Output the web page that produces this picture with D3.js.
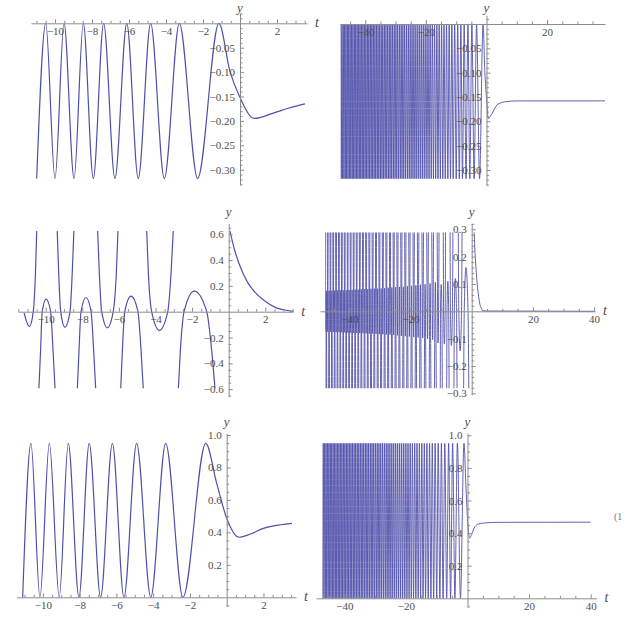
<!DOCTYPE html>
<html><head><meta charset="utf-8">
<script src="https://cdn.jsdelivr.net/npm/d3@7/dist/d3.min.js"></script>
<style>body{margin:0;background:#fff}svg{display:block}</style>
</head><body>
<svg id="c" width="644" height="624"></svg>
<script>
// ---------- DATA ----------
// Panel 1 (top-left)
const p1T = [-10.99,-10.50,-10.00,-9.51,-8.97,-8.47,-7.93,-7.37,-6.76,-6.12,-5.50,-4.83,-4.09,-3.28,-2.29,-1.14,-0.54,0,0.77,1.8,2.6,3.51];
const p1Y = [-0.318,0,-0.318,0,-0.318,0,-0.318,0,-0.318,0,-0.318,0,-0.318,0,-0.318,0,-0.099,-0.152,-0.195,-0.184,-0.174,-0.165];
// Panel 5 (bottom-left)
const p5T = [-11.10,-10.65,-10.16,-9.65,-9.11,-8.62,-8.04,-7.48,-6.86,-6.22,-5.59,-4.90,-4.13,-3.32,-2.38,-1.14,-0.54,0,0.67,1.3,2.0,2.8,3.55];
const p5Y = [0,0.949,0,0.949,0,0.949,0,0.949,0,0.949,0,0.949,0,0.949,0,0.949,0.70,0.487,0.37,0.39,0.425,0.445,0.456];
// Panel 3 (middle-left): branches between poles, [t, y]
const p3Branches = [
  [[-11.18,-0.01],[-10.89,-0.116],[-10.68,0],[-10.56,0.3],[-10.49,0.625]],
  [[-10.37,-0.594],[-10.28,-0.3],[-10.19,0],[-9.98,0.098],[-9.73,0],[-9.60,-0.3],[-9.49,-0.594]],
  [[-9.37,0.625],[-9.29,0.3],[-9.18,0],[-8.95,-0.12],[-8.67,0],[-8.55,0.3],[-8.46,0.625]],
  [[-8.27,-0.594],[-8.18,-0.3],[-8.07,0],[-7.80,0.11],[-7.52,0],[-7.38,-0.3],[-7.27,-0.594]],
  [[-7.16,0.625],[-7.07,0.3],[-6.94,0],[-6.63,-0.125],[-6.31,0],[-6.14,0.3],[-6.05,0.625]],
  [[-5.90,-0.594],[-5.81,-0.3],[-5.68,0],[-5.34,0.12],[-4.96,0],[-4.79,-0.3],[-4.67,-0.594]],
  [[-4.48,0.625],[-4.39,0.3],[-4.21,0],[-3.79,-0.145],[-3.33,0],[-3.15,0.3],[-3.03,0.625]],
  [[-2.75,-0.594],[-2.64,-0.3],[-2.44,0],[-1.88,0.16],[-1.20,0],[-0.93,-0.3],[-0.75,-0.594]]
];
const p3Post = [[0.07,0.625],[0.3,0.49],[0.6,0.36],[1.0,0.235],[1.35,0.165],[1.9,0.09],[2.6,0.03],[3.0,0.015],[3.53,0.003]];
const p4Tail = [[5,0.001],[40.3,0]];
// Dense panels (right column): |t| of maxima and minima
const densePeakT = [1.14,3.28,4.83,6.12,7.37,8.47,9.51,10.50,11.43,12.32,13.19,14.02,14.83,15.62,16.39,17.14,17.88,18.60,19.31,20.00,20.69,21.36,22.02,22.67,23.31,23.95,24.57,25.19,25.80,26.40,27.00,27.59,28.17,28.75,29.32,29.89,30.45,31.00,31.55,32.10,32.64,33.18,33.71,34.24,34.76,35.28,35.80,36.31,36.82,37.33,37.83,38.33,38.83,39.32,39.81,40.30,40.78,41.26,41.74,42.21,42.69,43.16,43.62,44.09,44.55,45.01,45.47,45.93,46.38,46.83,47.28,47.73,48.17,48.61,49.06];
const denseTroughT = [2.29,4.09,5.50,6.76,7.93,8.97,10.00,10.99,11.88,12.76,13.61,14.43,15.23,16.01,16.77,17.51,18.24,18.96,19.66,20.35,21.03,21.69,22.35,22.99,23.63,24.26,24.88,25.50,26.10,26.70,27.30,27.88,28.46,29.04,29.61,30.17,30.73,31.28,31.83,32.37,32.91,33.45,33.98,34.50,35.02,35.54,36.06,36.57,37.08,37.58,38.08,38.58,39.08,39.57,40.06,40.54,41.02,41.50,41.98,42.45,42.93,43.39,43.86,44.32,44.78,45.24,45.70,46.16,46.61,47.06,47.51,47.95,48.39,48.84];
// Panel 4 band half-height at each trough position
const p4BandAmp = [0.160,0.145,0.120,0.125,0.110,0.120,0.100,0.116,
  0.106,0.104,0.102,0.101,0.099,0.098,0.097,0.096,0.095,0.094,0.093,0.092,0.092,0.091,0.090,0.090,0.089,0.088,0.088,0.087,0.087,0.086,0.086,0.085,0.085,0.084,0.084,0.084,0.083,0.083,0.083,0.082,0.082,0.082,0.081,0.081,0.081,0.080,0.080,0.080,0.079,0.079,0.079,0.079,0.078,0.078,0.078,0.078,0.077,0.077,0.077,0.077,0.077,0.076,0.076,0.076,0.076,0.076,0.075,0.075,0.075,0.075,0.075,0.075,0.074,0.074];
const p2Levels = [0, -0.318];   // maxima, minima
const p6Levels = [0.951, 0];
const p2Post = [[-0.54,-0.099],[0,-0.152],[0.6,-0.194],[1.8,-0.184],[3.5,-0.166],[6,-0.160],[10,-0.158],[39.1,-0.158]];
const p6Post = [[-0.54,0.70],[0,0.487],[0.67,0.37],[1.3,0.39],[2.0,0.425],[3.55,0.456],[6,0.463],[10,0.466],[40,0.467]];
// Ticks
const smallXTicks = [-10,-8,-6,-4,-2,2];
const wideXTicks2 = [-40,-20,20];
const wideXTicks = [-40,-20,20,40];
const yTicks12 = [-0.05,-0.10,-0.15,-0.20,-0.25,-0.30];
const yTicks3 = [-0.6,-0.4,-0.2,0.2,0.4,0.6];
const yTicks4 = [-0.3,-0.2,-0.1,0.1,0.2,0.3];
const yTicks56 = [0.2,0.4,0.6,0.8,1.0];

// ---------- DRAWING ----------
const svg = d3.select("#c");
svg.append("rect").attr("width",644).attr("height",624).attr("fill","#fff");
const LINE = "#5050aa", AX = "#8c8c8c", TXT = "#4d4d4d";
const FONT = "'Liberation Serif','DejaVu Serif',serif";
const minus = s => s.replace("-", "\u2212");
let clipId = 0;

function panel(o){
  const x = d3.scaleLinear().domain(o.xExt).range([o.x0 + o.xExt[0]*o.kx, o.x0 + o.xExt[1]*o.kx]);
  const y = d3.scaleLinear().domain(o.yExt).range([o.y0 - o.yExt[0]*o.ky, o.y0 - o.yExt[1]*o.ky]);
  const g = svg.append("g");
  const id = "clip" + (clipId++);
  const cx = o.clipX || o.xExt, cy = o.clipY || o.yExt;
  g.append("clipPath").attr("id", id).append("rect")
    .attr("x", x(cx[0])).attr("width", x(cx[1]) - x(cx[0]))
    .attr("y", y(cy[1])).attr("height", y(cy[0]) - y(cy[1]));
  const lg = g.append("g").attr("clip-path", `url(#${id})`);
  const line = d3.line().x(d => x(d[0])).y(d => y(d[1])).curve(d3.curveMonotoneX);
  o.series.forEach(s => {
    lg.append("path").attr("d", line(s)).attr("fill","none")
      .attr("stroke", LINE).attr("stroke-width", o.sw || 1.2).attr("stroke-linejoin","round");
  });

  const minor = (ext, step, major) => d3.range(Math.ceil(ext[0]/step)*step, ext[1] + 1e-9, step)
      .map(v => +v.toFixed(6))
      .filter(v => Math.abs(v) > 1e-9 && !major.some(m => Math.abs(m - v) < 1e-9));
  const style = sel => {
    sel.selectAll(".domain").attr("stroke", AX).attr("stroke-width", 1);
    sel.selectAll(".tick line").attr("stroke", AX).attr("stroke-width", 1);
    sel.selectAll("text").attr("fill", TXT).attr("font-family", FONT).attr("font-size", 11);
    sel.attr("font-family", null).attr("font-size", null);
  };
  // x axis
  g.append("g").attr("transform", `translate(0,${y(0)})`)
    .call(d3.axisBottom(x).tickValues(minor(o.xExt, o.xMinor, o.xTicks)).tickSize(-2.5).tickSizeOuter(0).tickFormat(""))
    .call(s => s.select(".domain").remove()).call(style);
  g.append("g").attr("transform", `translate(0,${y(0)})`)
    .call(d3.axisBottom(x).tickValues(o.xTicks).tickSize(-4).tickSizeOuter(0).tickPadding(4)
      .tickFormat(d => minus(String(d)))).call(style);
  // y axis
  g.append("g").attr("transform", `translate(${x(0)},0)`)
    .call(d3.axisLeft(y).tickValues(minor(o.yExt, o.yMinor, o.yTicks)).tickSize(-2.5).tickSizeOuter(0).tickFormat(""))
    .call(s => s.select(".domain").remove()).call(style);
  g.append("g").attr("transform", `translate(${x(0)},0)`)
    .call(d3.axisLeft(y).tickValues(o.yTicks).tickSize(-4).tickSizeOuter(0).tickPadding(5)
      .tickFormat(d => minus(d.toFixed(o.yDec)))).call(style);
  // axis names
  g.append("text").attr("x", x(0)).attr("y", Math.max(y(o.yExt[1]) - 7, 12)).attr("text-anchor","middle")
    .attr("font-family", FONT).attr("font-style","italic").attr("font-size", 13).attr("fill", TXT).text("y");
  if (o.tLabel !== false)
    g.append("text").attr("x", x(o.xExt[1]) + 10).attr("y", y(0) + 4).attr("text-anchor","middle")
      .attr("font-family", FONT).attr("font-style","italic").attr("font-size", 14).attr("fill", TXT).text("t");
}

// Panel series
const p1 = d3.zip(p1T, p1Y);
const p5 = d3.zip(p5T, p5Y);
const denseSeries = (lv, post) => densePeakT.map(t => [-t, lv[0]])
    .concat(denseTroughT.map(t => [-t, lv[1]]))
    .sort((a, b) => a[0] - b[0]).concat(post);
const p2 = denseSeries(p2Levels, p2Post);
const p6 = denseSeries(p6Levels, p6Post);
const p4Dense = [];
for (let k = 7; k < denseTroughT.length; k++) {
  const s = (k % 2) ? -1 : 1;
  p4Dense.push([[-densePeakT[k+1] + 0.02, -s*0.6], [-denseTroughT[k], s*p4BandAmp[k]], [-densePeakT[k] - 0.02, -s*0.6]]);
}

panel({x0:240, kx:18.5, y0:23.3, ky:488, xExt:[-11.3,3.62], yExt:[-0.331,0.021],
  xTicks:smallXTicks, xMinor:0.5, yTicks:yTicks12, yMinor:0.01, yDec:2, series:[p1]});
panel({x0:486.5, kx:3.03, y0:24, ky:486.7, xExt:[-48.35,39.1], yExt:[-0.331,0.018],
  clipX:[-48.1,39.1], xTicks:wideXTicks2, xMinor:5, yTicks:yTicks12, yMinor:0.01, yDec:2,
  series:[p2], sw:0.9, tLabel:false});
panel({x0:228.7, kx:18.3, y0:311.7, ky:129, xExt:[-11.5,3.53], yExt:[-0.659,0.685],
  xTicks:smallXTicks, xMinor:0.5, yTicks:yTicks3, yMinor:0.05, yDec:1,
  series:p3Branches.concat([p3Post])});
panel({x0:471.7, kx:3.06, y0:311.3, ky:273.3, xExt:[-49.6,40.3], yExt:[-0.306,0.322],
  clipX:[-47.9,40.3], clipY:[-0.282,0.288], xTicks:wideXTicks, xMinor:5, yTicks:yTicks4, yMinor:0.02, yDec:1,
  series:p4Dense.concat(p3Branches.slice(1), [p3Post.concat(p4Tail)]), sw:0.9});
panel({x0:226.7, kx:18.38, y0:597.3, ky:162.3, xExt:[-11.43,3.77], yExt:[-0.058,1.01],
  xTicks:smallXTicks, xMinor:0.5, yTicks:yTicks56, yMinor:0.05, yDec:1, series:[p5]});
panel({x0:467.5, kx:3.08, y0:598.3, ky:163, xExt:[-49.2,41.9], yExt:[-0.052,1.014],
  clipX:[-47.05,40], xTicks:wideXTicks, xMinor:5, yTicks:yTicks56, yMinor:0.05, yDec:1,
  series:[p6], sw:0.9});

svg.append("text").attr("x", 614).attr("y", 520).attr("font-family", FONT).attr("font-size", 10)
  .attr("fill", "#777").text("(1");
</script>
</body></html>
